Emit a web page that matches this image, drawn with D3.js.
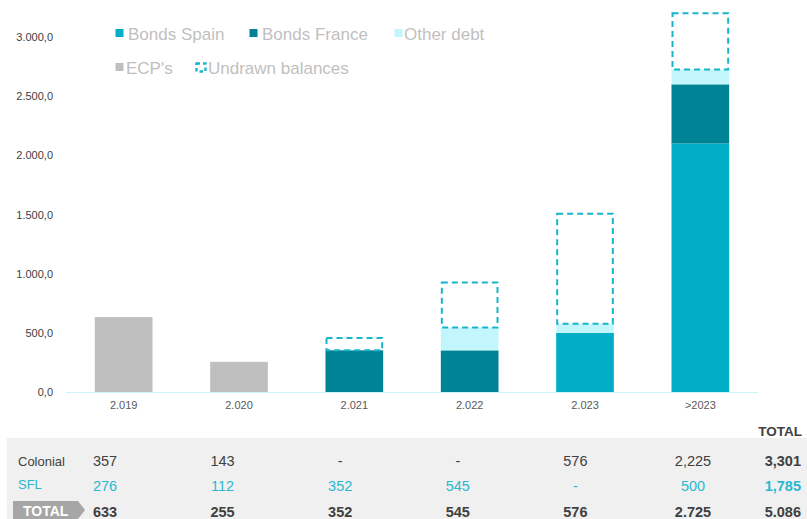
<!DOCTYPE html>
<html>
<head>
<meta charset="utf-8">
<script src="https://cdn.jsdelivr.net/npm/d3@7/dist/d3.min.js"></script>
<style>
  html, body { margin: 0; padding: 0; background: #ffffff; }
  svg { display: block; font-family: "Liberation Sans", Arial, sans-serif; }
</style>
</head>
<body>
<svg id="chart" width="807" height="519"></svg>
<script>
// Maturity buckets
const categories = ["2.019", "2.020", "2.021", "2.022", "2.023", ">2023"];

// Drawn debt by instrument (€m)
const bondsSpain  = [0, 0, 0, 0, 500, 2100];
const bondsFrance = [0, 0, 352, 352, 0, 500];
const otherDebt   = [0, 0, 0, 193, 76, 125];
const ecps        = [633, 255, 0, 0, 0, 0];
// Undrawn credit lines stacked above the drawn debt
const undrawn     = [0, 0, 105, 380, 930, 475];

// Y axis ticks
const yTicks = [0, 500, 1000, 1500, 2000, 2500, 3000];

// Summary table
const rowColonial = ["357", "143", "-", "-", "576", "2,225"];
const rowSFL      = ["276", "112", "352", "545", "-", "500"];
const rowTotal    = ["633", "255", "352", "545", "576", "2.725"];
const grandTotals = ["3,301", "1,785", "5.086"];

const series = [
  { key: "Bonds Spain",  values: bondsSpain,  color: "#00aec7" },
  { key: "Bonds France", values: bondsFrance, color: "#008394" },
  { key: "Other debt",   values: otherDebt,   color: "#c2f5fc" },
  { key: "ECP's",        values: ecps,        color: "#bfbfbf" }
];

const svg = d3.select("#chart");

const x = d3.scaleBand().domain(categories).range([66, 758])
  .paddingInner(0.5).paddingOuter(0.25);
const y = d3.scaleLinear().domain([0, 3000]).range([392, 37]);

const esLocale = d3.formatLocale({ decimal: ",", thousands: ".", grouping: [3], currency: ["", "€"] });
const fmt = esLocale.format(",.1f");

// Y axis labels (no axis line, no ticks)
const yAxis = svg.append("g").attr("transform", "translate(57,0)")
  .call(d3.axisLeft(y).tickValues(yTicks).tickFormat(fmt).tickSize(0).tickPadding(4));
yAxis.select(".domain").remove();
yAxis.selectAll("text").attr("font-size", 11).attr("fill", "#404040")
  .attr("font-family", "'Liberation Sans', Arial, sans-serif");

// Stacked bars
const stackInput = categories.map((c, i) => {
  const o = { cat: c };
  series.forEach(s => { o[s.key] = s.values[i]; });
  return o;
});
const stacked = d3.stack().keys(series.map(s => s.key))(stackInput);

svg.append("g").selectAll("g").data(stacked).join("g")
  .attr("fill", (d, i) => series[i].color)
  .selectAll("rect").data(d => d).join("rect")
  .attr("x", d => x(d.data.cat))
  .attr("width", x.bandwidth())
  .attr("y", d => y(d[1]))
  .attr("height", d => y(d[0]) - y(d[1]));

// Undrawn balances as dashed outlines above the stack
const topOf = categories.map((c, i) => series.reduce((a, s) => a + s.values[i], 0));
svg.append("g").selectAll("rect")
  .data(categories.map((c, i) => ({ cat: c, base: topOf[i], v: undrawn[i] })).filter(d => d.v > 0))
  .join("rect")
  .attr("x", d => x(d.cat) + 1)
  .attr("width", x.bandwidth() - 2)
  .attr("y", d => y(d.base + d.v))
  .attr("height", d => y(d.base) - y(d.base + d.v))
  .attr("fill", "none")
  .attr("stroke", "#17b5cc")
  .attr("stroke-width", 2)
  .attr("stroke-dasharray", "6,4");

// X axis baseline and labels
svg.append("line").attr("x1", 66).attr("x2", 758).attr("y1", y(0) + 0.5).attr("y2", y(0) + 0.5)
  .attr("stroke", "#ccf4fa").attr("stroke-width", 1.2);
svg.append("g").selectAll("text").data(categories).join("text")
  .attr("x", d => x(d) + x.bandwidth() / 2)
  .attr("y", 409)
  .attr("text-anchor", "middle")
  .attr("font-size", 11)
  .attr("fill", "#595959")
  .text(d => d);

// Legend
const legendItems = [
  { label: "Bonds Spain",  color: "#00aec7", mx: 115.5, tx: 128, ty: 40 },
  { label: "Bonds France", color: "#008394", mx: 249.5, tx: 262, ty: 40 },
  { label: "Other debt",   color: "#c2f5fc", mx: 394.5, tx: 404, ty: 40 },
  { label: "ECP's",        color: "#bfbfbf", mx: 115.5, tx: 126, ty: 74 }
];
const lg = svg.append("g");
legendItems.forEach(it => {
  lg.append("rect").attr("x", it.mx).attr("y", it.ty - 11).attr("width", 8).attr("height", 8).attr("fill", it.color);
  lg.append("text").attr("x", it.tx).attr("y", it.ty).attr("font-size", 17).attr("fill", "#bfbfbf").text(it.label);
});
lg.append("rect").attr("x", 196.5).attr("y", 63.5).attr("width", 9).attr("height", 8)
  .attr("fill", "none").attr("stroke", "#17b5cc").attr("stroke-width", 2.4).attr("stroke-dasharray", "3.5,3");
lg.append("text").attr("x", 208).attr("y", 74).attr("font-size", 17).attr("fill", "#bfbfbf").text("Undrawn balances");

// Summary table
const col = d3.scalePoint().domain(categories).range([105, 693]);
const table = svg.append("g");
table.append("rect").attr("x", 7).attr("y", 438).attr("width", 800).attr("height", 81).attr("fill", "#f0f0f0");
table.append("text").attr("x", 802).attr("y", 436).attr("text-anchor", "end")
  .attr("font-size", 13.5).attr("font-weight", "bold").attr("fill", "#404040").text("TOTAL");

table.append("text").attr("x", 18).attr("y", 466).attr("font-size", 13).attr("fill", "#404040").text("Colonial");
table.append("text").attr("x", 18).attr("y", 489).attr("font-size", 13).attr("fill", "#2bb7d0").text("SFL");

// TOTAL badge
table.append("path")
  .attr("d", "M13,501 L78,501 L85,510 L78,519 L13,519 Z")
  .attr("fill", "#a6a6a6");
table.append("text").attr("x", 23).attr("y", 516).attr("font-size", 14).attr("font-weight", "bold")
  .attr("fill", "#ffffff").text("TOTAL");

const rows = [
  { vals: rowColonial, y: 466, color: "#404040", weight: "normal" },
  { vals: rowSFL,      y: 491, color: "#2bb7d0", weight: "normal" },
  { vals: rowTotal,    y: 517, color: "#404040", weight: "bold" }
];
rows.forEach((r, ri) => {
  table.append("g").selectAll("text").data(r.vals).join("text")
    .attr("x", (d, i) => col(categories[i]))
    .attr("y", r.y)
    .attr("text-anchor", "middle")
    .attr("font-size", 14.5)
    .attr("font-weight", r.weight)
    .attr("fill", r.color)
    .text(d => d);
  table.append("text").attr("x", 801).attr("y", r.y).attr("text-anchor", "end")
    .attr("font-size", 14.5).attr("font-weight", "bold").attr("fill", r.color)
    .text(grandTotals[ri]);
});
</script>
</body>
</html>
